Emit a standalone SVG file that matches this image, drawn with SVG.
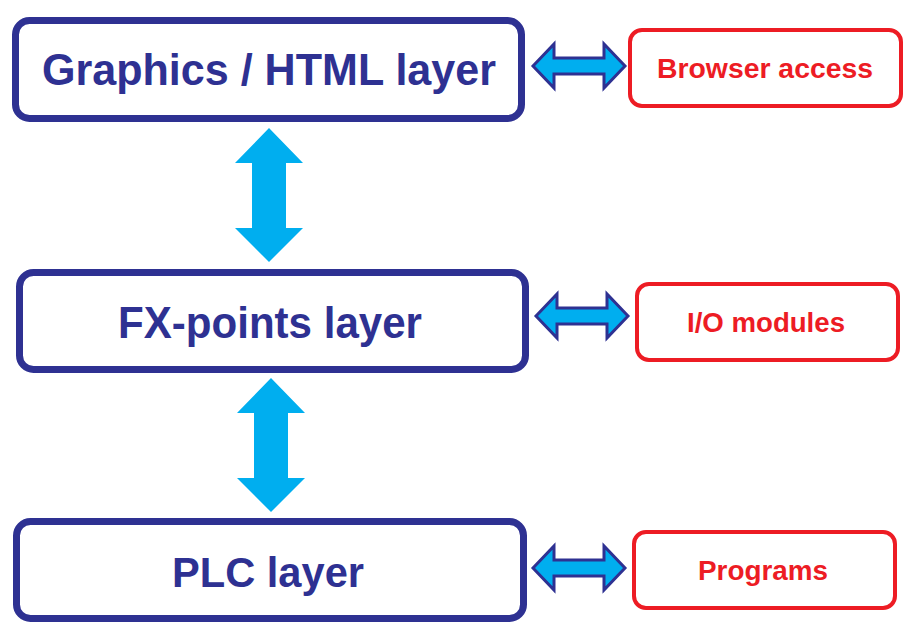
<svg xmlns="http://www.w3.org/2000/svg" width="914" height="632" viewBox="0 0 914 632">
<style>
.layer{fill:#fff;stroke:#2e3192;stroke-width:7}
.ext{fill:#fff;stroke:#ed1c24;stroke-width:4}
.lt{font-family:"Liberation Sans",Arial,sans-serif;font-weight:bold;fill:#2e3192}
.et{font-family:"Liberation Sans",Arial,sans-serif;font-weight:bold;fill:#ed1c24}
.ha{fill:#00aeef;stroke:#2e3192;stroke-width:3;stroke-linejoin:miter}
.va{fill:#00aeef}
</style>
<defs>
<path id="harrow" d="M0,0 L21,-22 L21,-8 L71,-8 L71,-22 L92,0 L71,22 L71,8 L21,8 L21,22 Z"/>
<path id="varrow" d="M0,0 L34,35 L17,35 L17,100 L34,100 L0,134 L-34,100 L-17,100 L-17,35 L-34,35 Z"/>
</defs>
<g id="connectors">
<use href="#harrow" class="ha" x="533" y="66"/>
<use href="#harrow" class="ha" x="536" y="316"/>
<use href="#harrow" class="ha" x="533" y="568"/>
<use href="#varrow" class="va" x="269" y="128"/>
<use href="#varrow" class="va" x="271" y="378"/>
</g>
<g id="graphics">
<rect class="layer" x="15.5" y="20.5" width="506" height="98" rx="14"/>
<text class="lt" x="42" y="85" font-size="45" textLength="454" lengthAdjust="spacingAndGlyphs">Graphics / HTML layer</text>
</g>
<g id="fxpoints">
<rect class="layer" x="19.5" y="272.5" width="506" height="97" rx="14"/>
<text class="lt" x="118" y="338" font-size="44" textLength="304" lengthAdjust="spacingAndGlyphs">FX-points layer</text>
</g>
<g id="plc">
<rect class="layer" x="16.5" y="521.5" width="507" height="97" rx="14"/>
<text class="lt" x="172" y="587" font-size="43" textLength="192" lengthAdjust="spacingAndGlyphs">PLC layer</text>
</g>
<g id="browser">
<rect class="ext" x="630" y="30" width="271" height="76" rx="12"/>
<text class="et" x="657" y="78" font-size="28" textLength="216" lengthAdjust="spacingAndGlyphs">Browser access</text>
</g>
<g id="io">
<rect class="ext" x="637" y="284" width="261" height="76" rx="12"/>
<text class="et" x="687" y="332" font-size="27" textLength="158" lengthAdjust="spacingAndGlyphs">I/O modules</text>
</g>
<g id="programs">
<rect class="ext" x="634" y="532" width="261" height="76" rx="12"/>
<text class="et" x="698" y="580" font-size="27" textLength="130" lengthAdjust="spacingAndGlyphs">Programs</text>
</g>
</svg>
